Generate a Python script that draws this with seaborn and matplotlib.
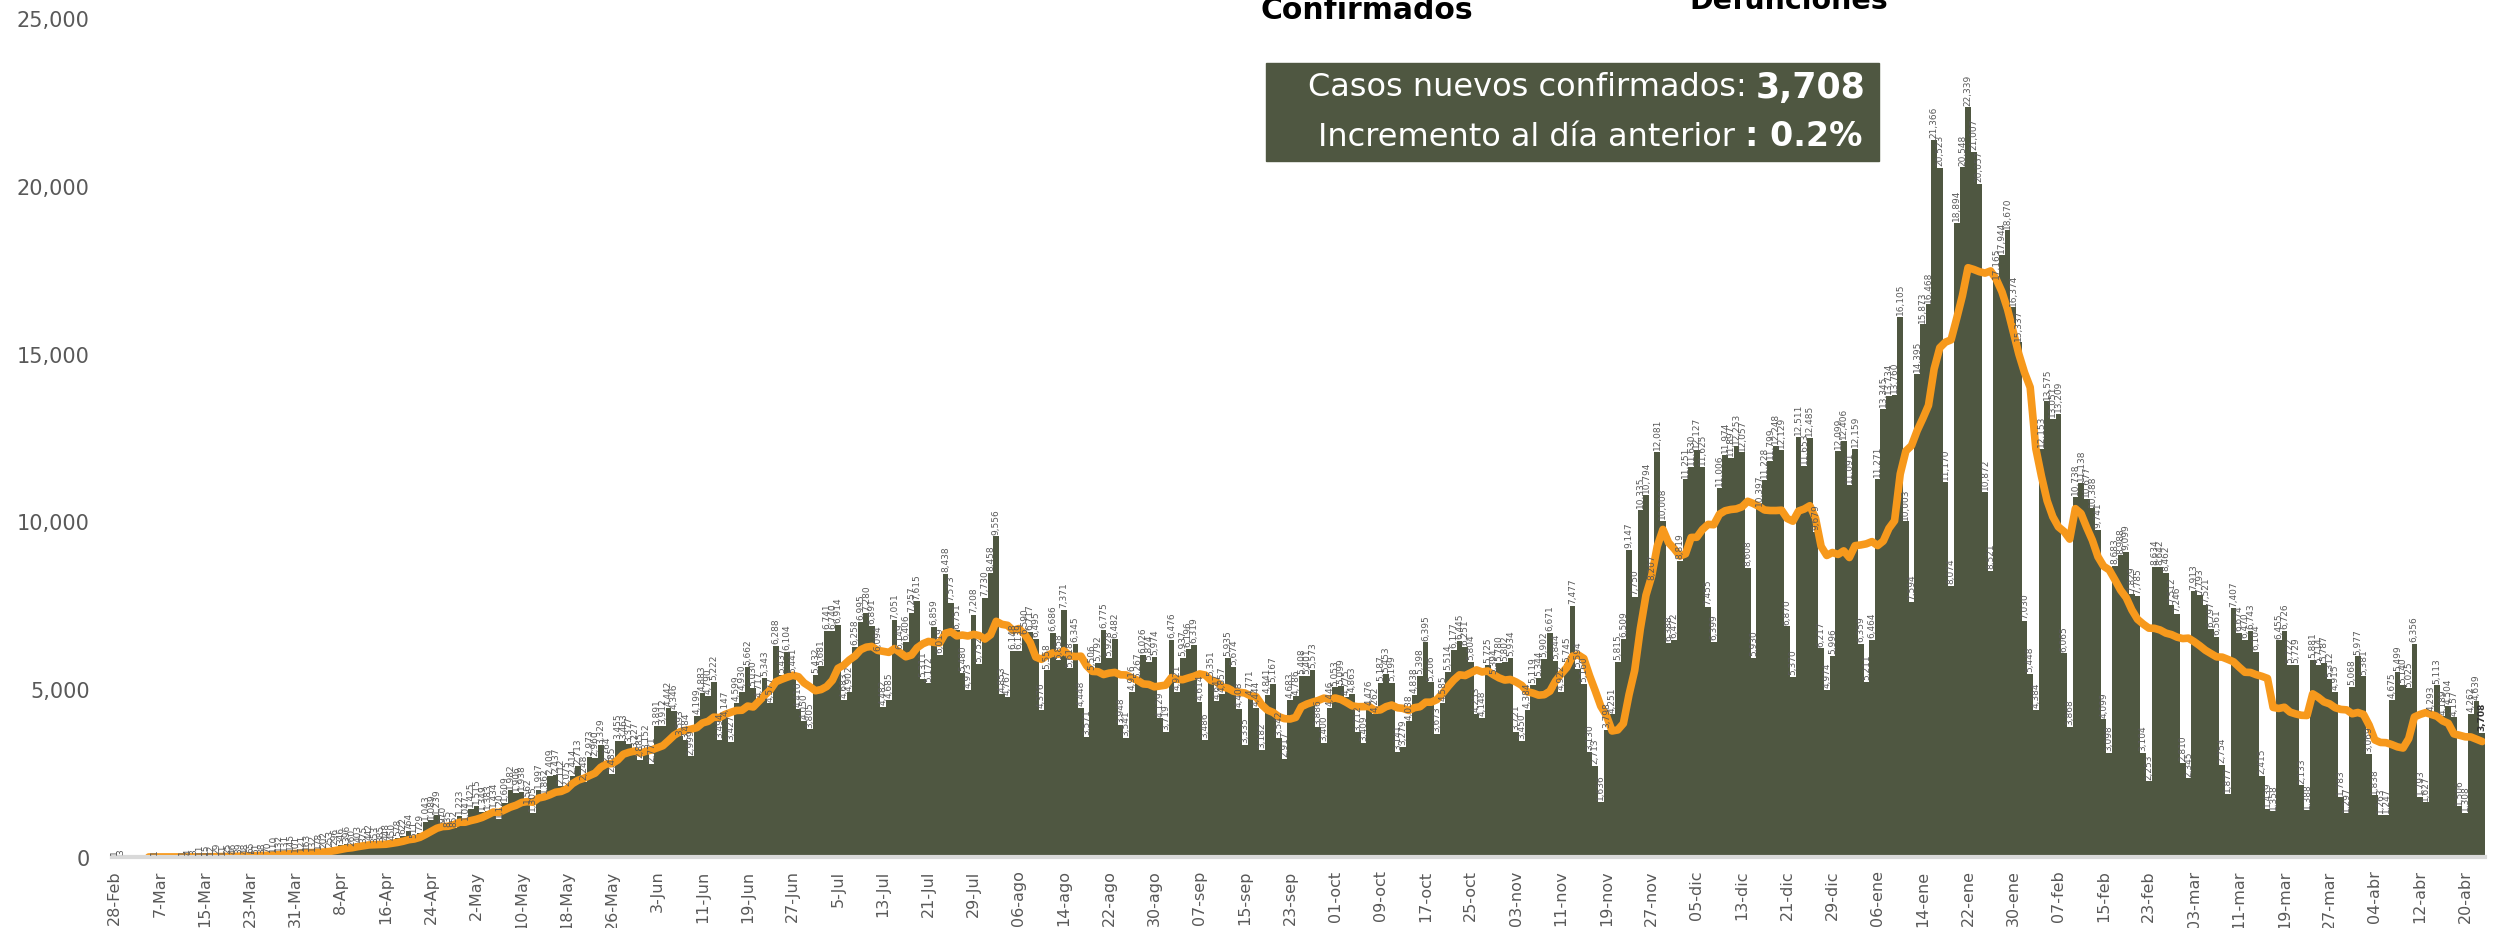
import pandas as pd
import seaborn as sns
import matplotlib.pyplot as plt
import matplotlib.ticker as mticker
from matplotlib.patches import Rectangle

# --- DATOS: casos nuevos confirmados por día ---
casos_feb20 = [1, 3]
casos_mar20 = [0, 0, 0, 0, 0, 1, 0, 0, 0, 0, 1, 4, 3, 11, 15, 12, 29, 11, 25, 46,
               39, 48, 65, 51, 38, 70, 110, 132, 131, 145, 101]
casos_abr20 = [121, 163, 132, 178, 202, 253, 296, 346, 396, 260, 403, 375, 442, 353, 385,
               448, 450, 578, 622, 764, 511, 729, 1043, 1089, 1239, 970, 835, 852, 1223, 1047]
casos_may20 = [1425, 1515, 1349, 1383, 1434, 1120, 1609, 1982, 1906, 1938, 1562, 1305, 1997,
               1862, 2409, 2437, 2112, 2075, 2414, 2713, 2248, 2973, 2960, 3329, 2764, 2485,
               3455, 3463, 3377, 3227, 2885]
casos_jun20 = [3152, 2771, 3891, 3912, 4442, 4346, 3593, 3484, 2999, 4199, 4883, 4790, 5222,
               3494, 4147, 3427, 4599, 4930, 5662, 5030, 4717, 5343, 4577, 6288, 5437, 6104,
               5441, 4410, 4050, 3805]
casos_jul20 = [5432, 5681, 6741, 6740, 6914, 4683, 4902, 6258, 6995, 7280, 6891, 6094, 4482,
               4685, 7051, 6149, 6406, 7257, 7615, 5311, 5172, 6859, 6019, 8438, 7573, 6751,
               5480, 4973, 7208, 5752, 7730]
casos_ago20 = [8458, 9556, 4853, 4767, 6148, 6139, 6590, 6717, 6495, 4376, 5558, 6686, 5858,
               7371, 5618, 6345, 4448, 3571, 5506, 5792, 6775, 5928, 6482, 3948, 3541, 4916,
               5267, 6026, 5824, 5974, 4129]
casos_sep20 = [3719, 6476, 4921, 5937, 6196, 6319, 4614, 3486, 5351, 4647, 4857, 5935, 5674,
               4408, 3335, 4771, 4444, 3182, 4841, 5167, 3542, 2917, 4683, 4786, 5408, 5401,
               5573, 3886, 3400, 4446]
casos_oct20 = [5053, 5099, 4775, 4863, 3712, 3409, 4476, 4262, 5187, 5453, 5199, 3141, 3279,
               4038, 4838, 5398, 6395, 5206, 3673, 4585, 5514, 6177, 6445, 6251, 5804, 4253,
               4148, 5725, 5394, 5780, 5802]
casos_nov20 = [5934, 3721, 3450, 4384, 5119, 5344, 5902, 6671, 5844, 4922, 5745, 7477, 5594,
               5160, 3130, 2713, 1636, 3798, 4251, 5815, 6509, 9147, 7750, 10335, 10794, 8207,
               12081, 10008, 6388]
casos_dic20 = [6472, 8819, 11251, 11630, 12127, 11625, 7455, 6399, 11006, 11974, 11897, 12253,
               12057, 8608, 5930, 10397, 11228, 11799, 12248, 12129, 6870, 5370, 12511, 11653,
               12485, 9679, 6217, 4974, 5996, 12099, 12406]
casos_ene21 = [11091, 12159, 6359, 5211, 6464, 11271, 13345, 13734, 13760, 16105, 10003, 7594,
               14395, 15873, 16468, 21366, 20523, 11170, 8074, 18894, 20548, 22339, 21007,
               20057, 10872, 8521, 17165, 17944, 18670, 16374, 15337]
casos_feb21 = [7030, 5448, 4384, 12153, 13575, 13051, 13209, 6065, 3868, 10738, 11138, 10677,
               10388, 9741, 4099, 3098, 8683, 8988, 9099, 7829, 7785, 3104, 2253, 8634, 8642,
               8462, 7512, 7246]
casos_mar21 = [2810, 2345, 7913, 7793, 7521, 6797, 6561, 2754, 1877, 7407, 6674, 6470, 6743,
               6104, 2415, 1439, 1358, 6455, 6726, 5722, 5729, 2133, 1388, 5881, 5714, 5787,
               5312, 4915, 1783, 1297, 5068]
casos_abr21 = [5977, 5381, 3069, 1838, 1263, 1247, 4675, 5499, 5140, 5025, 6356, 1793, 1627,
               4293, 5113, 4189, 4504, 4157, 1506, 1308, 4262, 4639, 3708]

etiquetas_x = ["28-Feb", "7-Mar", "15-Mar", "23-Mar", "31-Mar", "8-Apr", "16-Apr", "24-Apr",
               "2-May", "10-May", "18-May", "26-May", "3-Jun", "11-Jun", "19-Jun", "27-Jun",
               "5-Jul", "13-Jul", "21-Jul", "29-Jul", "06-ago", "14-ago", "22-ago", "30-ago",
               "07-sep", "15-sep", "23-sep", "01-oct", "09-oct", "17-oct", "25-oct", "03-nov",
               "11-nov", "19-nov", "27-nov", "05-dic", "13-dic", "21-dic", "29-dic", "06-ene",
               "14-ene", "22-ene", "30-ene", "07-feb", "15-feb", "23-feb", "03-mar", "11-mar",
               "19-mar", "27-mar", "04-abr", "12-abr", "20-abr"]

CASOS = (casos_feb20 + casos_mar20 + casos_abr20 + casos_may20 + casos_jun20 + casos_jul20
         + casos_ago20 + casos_sep20 + casos_oct20 + casos_nov20 + casos_dic20 + casos_ene21
         + casos_feb21 + casos_mar21 + casos_abr21)

COLOR_BARRA = "#4f5741"
COLOR_LINEA = "#f7991c"
GRIS = "#595959"
W, H = 2496, 929

df = pd.DataFrame({"dia": range(len(CASOS)), "casos": CASOS})
df["media7"] = df["casos"].rolling(7).mean()

sns.set_style("white")
plt.rcParams["font.family"] = ["DejaVu Sans"]

fig = plt.figure(figsize=(W / 100, H / 100), dpi=100)
ax = fig.add_axes([112 / W, 1 - 858 / H, (2485 - 112) / W, (858 - 19) / H])

sns.barplot(data=df, x="dia", y="casos", color=COLOR_BARRA, saturation=1, width=1.0,
            errorbar=None, linewidth=0, ax=ax)

# etiquetas de valor sobre cada barra
etq = [f"{v:,}" if v > 0 else "" for v in CASOS]
textos = ax.bar_label(ax.containers[0], labels=etq, rotation=90, padding=2,
                      fontsize=6.5, color=GRIS)
textos[-1].set_fontweight("bold")
textos[-1].set_color("#333333")

# promedio móvil de 7 días
sns.lineplot(data=df, x="dia", y="media7", color=COLOR_LINEA, linewidth=5.5,
             solid_capstyle="round", ax=ax)

n = len(CASOS)
ax.set_xlim(-0.5, n - 0.5)
ax.set_ylim(0, 25000)
ax.set_xticks(range(0, n, 8))
ax.set_xticklabels(etiquetas_x, rotation=90, fontsize=11.5, color=GRIS)
ax.xaxis.set_minor_locator(mticker.FixedLocator([i - 0.5 for i in range(n + 1)]))
ax.tick_params(axis="x", which="both", length=6, width=1.2, color="#d9d9d9",
               direction="out", pad=3)
ax.yaxis.set_major_locator(mticker.MultipleLocator(5000))
ax.yaxis.set_major_formatter(mticker.StrMethodFormatter("{x:,.0f}"))
ax.tick_params(axis="y", length=0, labelsize=15, labelcolor=GRIS, pad=16)
ax.set_xlabel("")
ax.set_ylabel("")
for lado in ["left", "right", "top"]:
    ax.spines[lado].set_visible(False)
ax.spines["bottom"].set_color("#d9d9d9")
ax.spines["bottom"].set_linewidth(3)

# títulos cortados en la parte superior
fig.text(1367 / W, 1 - 19 / H, "Confirmados", ha="center", va="baseline",
         fontsize=21.5, fontweight="bold", color="black")
fig.text(1789 / W, 1 - 9 / H, "Defunciones", ha="center", va="baseline",
         fontsize=20.5, fontweight="bold", color="black")

# recuadro con el dato del día
fig.add_artist(Rectangle((1266 / W, 1 - 162 / H), 613 / W, 98 / H,
                         transform=fig.transFigure, color=COLOR_BARRA, zorder=5))
fig.text(1747 / W, 1 - 88 / H, "Casos nuevos confirmados:", ha="right", va="center",
         fontsize=23, color="white", zorder=6)
fig.text(1756 / W, 1 - 88 / H, "3,708", ha="left", va="center",
         fontsize=25, fontweight="bold", color="white", zorder=6)
fig.text(1735 / W, 1 - 137 / H, "Incremento al día anterior", ha="right", va="center",
         fontsize=23, color="white", zorder=6)
fig.text(1745 / W, 1 - 137 / H, ": 0.2%", ha="left", va="center",
         fontsize=24, fontweight="bold", color="white", zorder=6)

fig.savefig("out.png", dpi=100)
